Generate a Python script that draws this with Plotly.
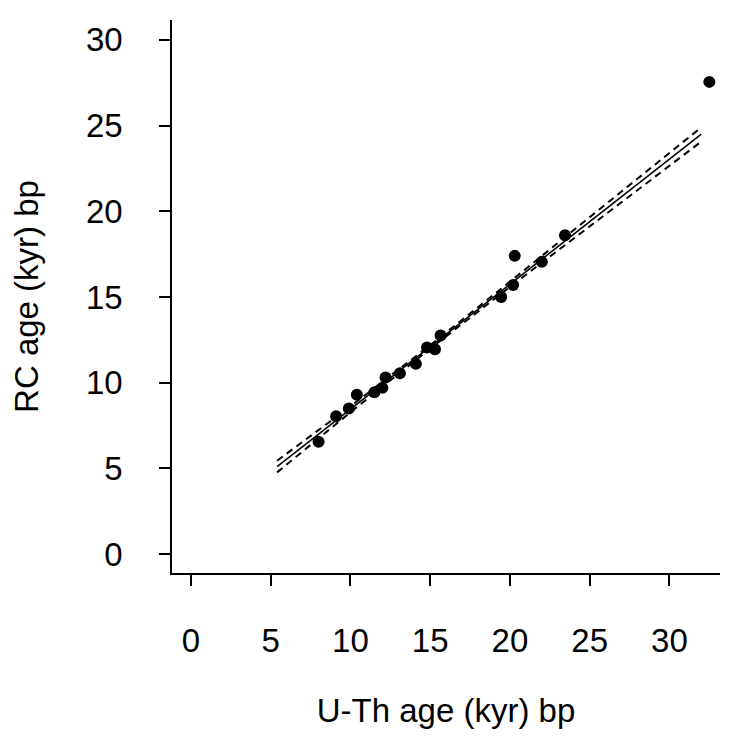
import plotly.graph_objects as go

# U-Th vs radiocarbon ages (kyr bp)
uth_age = [8.0, 9.1, 9.9, 10.4, 11.5, 12.0, 12.2, 13.1, 14.1, 14.8, 15.3, 15.65,
           19.45, 20.2, 20.3, 22.0, 23.45, 32.5]
rc_age = [6.55, 8.05, 8.5, 9.3, 9.45, 9.7, 10.3, 10.55, 11.1, 12.05, 11.95, 12.75,
          15.0, 15.7, 17.4, 17.05, 18.6, 27.55]

# regression line and its confidence band
fit_x = [5.4, 32.0]
fit_y = [5.1, 24.5]
band_x = [5.4, 10, 15, 20, 25, 32.0]
band_upper = [5.45, 8.62, 12.19, 15.89, 19.66, 24.9]
band_lower = [4.77, 8.28, 11.99, 15.59, 19.12, 24.07]

x_ticks = [0, 5, 10, 15, 20, 25, 30]
y_ticks = [0, 5, 10, 15, 20, 25, 30]

FONT = "Liberation Sans, Arial, sans-serif"

fig = go.Figure()

for band in (band_upper, band_lower):
    fig.add_trace(go.Scatter(
        x=band_x, y=band, mode="lines",
        line=dict(color="black", width=2, dash="7px,5px"),
        hoverinfo="skip", showlegend=False,
    ))

fig.add_trace(go.Scatter(
    x=fit_x, y=fit_y, mode="lines",
    line=dict(color="black", width=1.6),
    hoverinfo="skip", showlegend=False,
))

fig.add_trace(go.Scatter(
    x=uth_age, y=rc_age, mode="markers",
    marker=dict(color="black", size=12),
    showlegend=False,
))

axis_style = dict(
    showgrid=False, zeroline=False,
    showline=True, linecolor="black", linewidth=1.6,
    ticks="outside", ticklen=11, tickwidth=1.6, tickcolor="black",
    tickfont=dict(family=FONT, size=33, color="black"),
    mirror=False,
)

fig.update_xaxes(
    range=[-1.19, 33.17], tickvals=x_ticks, ticklabelstandoff=27,
    title=dict(text="U-Th age (kyr) bp", font=dict(family=FONT, size=33, color="black"), standoff=40),
    **axis_style,
)
fig.update_yaxes(
    range=[-1.1, 31.16], tickvals=y_ticks, ticklabelstandoff=30,
    title=dict(text="RC age (kyr) bp", font=dict(family=FONT, size=33, color="black"), standoff=40),
    **axis_style,
)

# the page body adds an 8px margin, so the figure is shrunk and margins shifted to compensate
fig.update_layout(
    width=721, height=729,
    margin=dict(l=164, r=9, t=12, b=164),
    plot_bgcolor="white", paper_bgcolor="white",
    font=dict(family=FONT, color="black"),
)

fig.write_html("out.html")
